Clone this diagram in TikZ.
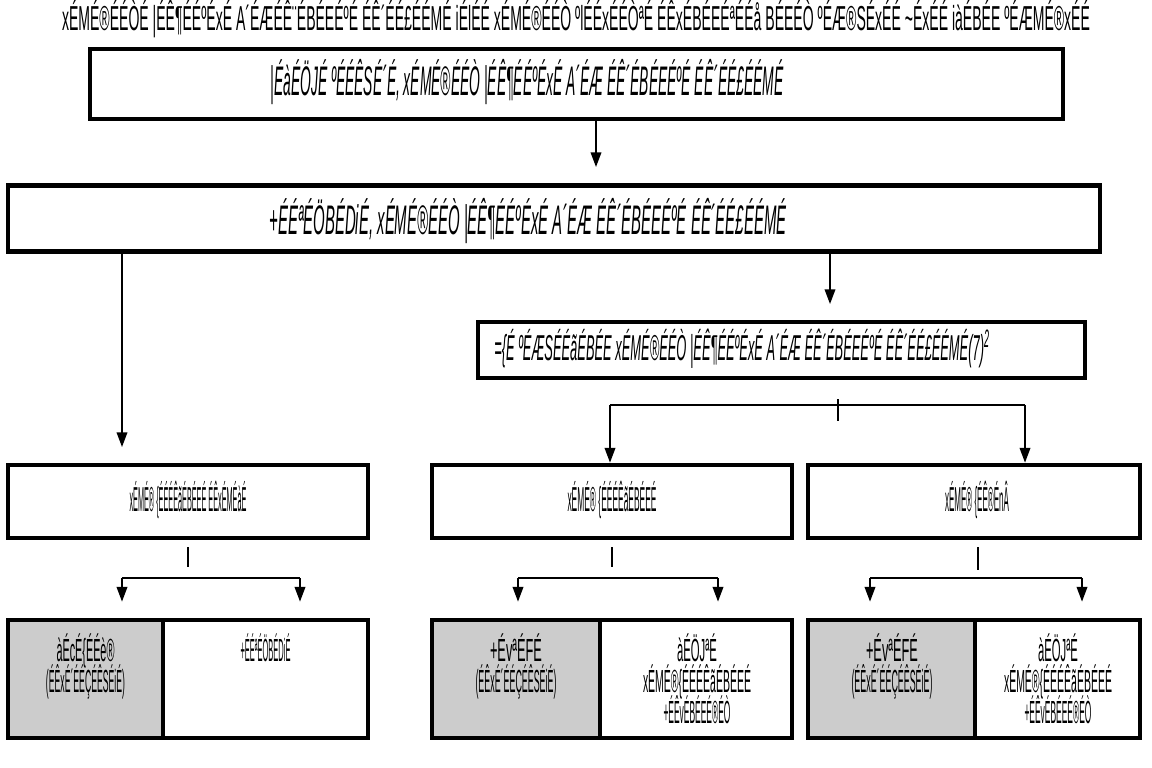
\documentclass[tikz,border=0pt]{standalone}
\usepackage{fontspec}
\setmainfont{Liberation Sans}
\usetikzlibrary{arrows.meta}
\newlength\px \setlength\px{0.75pt}
\newsavebox\tbx
% \tw{target width px}{font size pt}{text}
\newcommand\tw[3]{\sbox\tbx{\fontsize{#2pt}{#2pt}\selectfont #3}%
  \edef\mystr{\fpeval{round((#1*0.75pt)/(\wd\tbx),4)}}%
  {\fontsize{#2pt}{#2pt}\selectfont\addfontfeatures{FakeStretch=\mystr}#3}}
\begin{document}
\begin{tikzpicture}[x=0.75pt,y=-0.75pt,
  box/.style={draw,line width=3.6pt,inner sep=0pt,fill=white},
  gbox/.style={box,fill=black!20},
  txt/.style={inner sep=0pt,anchor=base},
  itxt/.style={txt,font=\itshape},
  con/.style={line width=1.1pt},
  arr/.style={con,-{Triangle[width=8pt,length=11pt]}}]
\useasboundingbox (0,0) rectangle (1152,767);

% title
\node[txt] (title) at (576,31) {\tw{1028}{26}{xÉMÉ®ÉÉÒÉ |ÉÊ¶ÉÉºÉxÉ A´ÉÆÉÊ¨ÉBÉEÉºÉ ÉÊ´ÉÉ£ÉÉMÉ iÉlÉÉ xÉMÉ®ÉÉÒ ºlÉÉxÉÉÒªÉ ÉÊxÉBÉEÉªÉÉå BÉEÉÒ ºÉÆ®SÉxÉÉ \textasciitilde ÉxÉÉ iàÉBÉE ºÉÆMÉ®xÉÉ}};

% coordinates for free ends
\coordinate (e1) at (596,167);
\coordinate (eL) at (122,447);
\coordinate (eR) at (830,304);
\coordinate (t3a) at (838,399);
\coordinate (t3b) at (838,421);
\coordinate (h3a) at (610,405);
\coordinate (h3b) at (1025,405);
\coordinate (taA) at (188,547);
\coordinate (tbA) at (188,567);
\coordinate (haA) at (122,578);
\coordinate (hbA) at (300,578);
\coordinate (taB) at (612,547);
\coordinate (tbB) at (612,567);
\coordinate (haB) at (518,578);
\coordinate (hbB) at (718,578);
\coordinate (taC) at (978,547);
\coordinate (tbC) at (978,570);
\coordinate (haC) at (870,578);
\coordinate (hbC) at (1082,578);

% boxes
\node[box,minimum width={973*\px},minimum height={70*\px}] (b1) at (576.5,84) {};
\node[box,minimum width={1092*\px},minimum height={66*\px}] (b2) at (554,218.5) {};
\node[box,minimum width={607*\px},minimum height={56*\px}] (b3) at (781.5,350) {};
\node[box,minimum width={360*\px},minimum height={73*\px}] (rA) at (188,501.5) {};
\node[box,minimum width={360*\px},minimum height={73*\px}] (rB) at (612,501.5) {};
\node[box,minimum width={332*\px},minimum height={73*\px}] (rC) at (974,501.5) {};

\node[gbox,minimum width={155*\px},minimum height={118*\px}] (gA) at (85.5,679) {};
\node[box,minimum width={205*\px},minimum height={118*\px}] (wA) at (265.5,679) {};
\node[gbox,minimum width={168*\px},minimum height={118*\px}] (gB) at (516,679) {};
\node[box,minimum width={192*\px},minimum height={118*\px}] (wB) at (696,679) {};
\node[gbox,minimum width={167*\px},minimum height={118*\px}] (gC) at (891.5,679) {};
\node[box,minimum width={165*\px},minimum height={118*\px}] (wC) at (1057.5,679) {};

% connectors
\draw[arr] (b1.south -| e1) -- (e1);
\draw[arr] (b2.south -| eL) -- (eL);
\draw[arr] (b2.south -| eR) -- (eR);
\draw[con] (t3a) -- (t3b);
\draw[con] (h3a) -- (h3b);
\draw[arr] (h3a) -- (h3a |- rB.north);
\draw[arr] (h3b) -- (h3b |- rC.north);
\foreach \s in {A,B,C}{
  \draw[con] (ta\s) -- (tb\s);
  \draw[con] (ha\s) -- (hb\s);
  \draw[arr] (ha\s) -- ([yshift=12pt]ha\s |- g\s.north);
  \draw[arr] (hb\s) -- ([yshift=12pt]hb\s |- g\s.north);
}

% texts
\node[itxt] (l1) at (527,95) {\tw{513}{31}{|ÉàÉÖJÉ ºÉÉÊSÉ´É, xÉMÉ®ÉÉÒ |ÉÊ¶ÉÉºÉxÉ A´ÉÆ ÉÊ´ÉBÉEÉºÉ ÉÊ´ÉÉ£ÉÉMÉ}};
\node[itxt] (l2) at (528,234) {\tw{517}{31}{+ÉÉªÉÖBÉDiÉ, xÉMÉ®ÉÉÒ |ÉÊ¶ÉÉºÉxÉ A´ÉÆ ÉÊ´ÉBÉEÉºÉ ÉÊ´ÉÉ£ÉÉMÉ}};
\node[itxt] (l3) at (742,360) {\tw{495}{27}{=\{É ºÉÆSÉÉãÉBÉE xÉMÉ®ÉÉÒ |ÉÊ¶ÉÉºÉxÉ A´ÉÆ ÉÊ´ÉBÉEÉºÉ ÉÊ´ÉÉ£ÉÉMÉ(7)\textsuperscript{2}}};
\node[txt] (lA) at (188,511) {\tw{117}{26}{xÉMÉ® \{ÉÉÉÊãÉBÉEÉ ÉÊxÉMÉàÉ}};
\node[txt] (lB) at (612,511) {\tw{89}{26}{xÉMÉ® \{ÉÉÉÊãÉBÉEÉ}};
\node[txt] (lC) at (977,511) {\tw{64}{26}{xÉMÉ® \{ÉÊ®ÉnÂ}};

\node[txt] (tgA1) at (85.5,661) {\tw{58}{24}{àÉcÉ\{ÉÉè®}};
\node[txt] (tgA2) at (85.5,692) {\tw{79}{24}{(ÉÊxÉ´ÉÉÇÉÊSÉiÉ)}};
\node[txt] (twA1) at (265.5,661) {\tw{50}{24}{+ÉÉªÉÖBÉDiÉ}};

\node[txt] (tgB1) at (516,661) {\tw{52}{24}{+ÉvªÉFÉ}};
\node[txt] (tgB2) at (516,692) {\tw{81}{24}{(ÉÊxÉ´ÉÉÇÉÊSÉiÉ)}};
\node[txt] (twB1) at (697,661) {\tw{40}{24}{àÉÖJªÉ}};
\node[txt] (twB2) at (697,692) {\tw{108}{24}{xÉMÉ®\{ÉÉÉÊãÉBÉEÉ}};
\node[txt] (twB3) at (697,723) {\tw{67}{24}{+ÉÊvÉBÉEÉ®ÉÒ}};

\node[txt] (tgC1) at (892,661) {\tw{52}{24}{+ÉvªÉFÉ}};
\node[txt] (tgC2) at (892,692) {\tw{81}{24}{(ÉÊxÉ´ÉÉÇÉÊSÉiÉ)}};
\node[txt] (twC1) at (1058,661) {\tw{40}{24}{àÉÖJªÉ}};
\node[txt] (twC2) at (1058,692) {\tw{108}{24}{xÉMÉ®\{ÉÉÉÊãÉBÉEÉ}};
\node[txt] (twC3) at (1058,723) {\tw{67}{24}{+ÉÊvÉBÉEÉ®ÉÒ}};
\end{tikzpicture}
\end{document}
